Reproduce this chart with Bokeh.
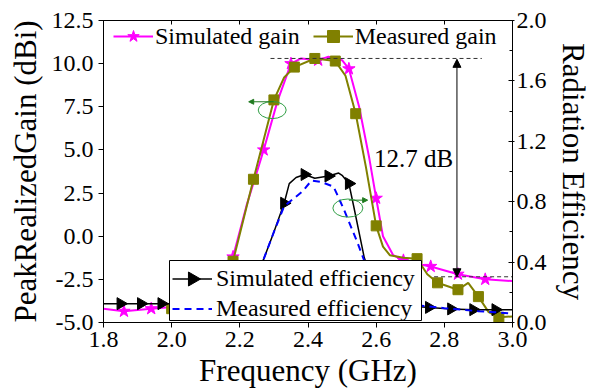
import numpy as np
from bokeh.plotting import figure
from bokeh.models import (Range1d, LinearAxis, SingleIntervalTicker, NumeralTickFormatter,
                          CustomJSTickFormatter, Legend, LegendItem, Arrow, NormalHead, Label)
from bokeh.embed import file_html
from bokeh.resources import INLINE

# ---------------- data ----------------
sim_gain_f = [1.80, 1.86, 1.94, 2.00, 2.02, 2.10, 2.15, 2.18, 2.22, 2.27, 2.31, 2.35, 2.38, 2.43,
              2.46, 2.50, 2.52, 2.55, 2.58, 2.60, 2.62, 2.65, 2.68, 2.72, 2.76, 2.84, 2.92, 3.00]
sim_gain = [-4.2, -4.35, -4.2, -4.1, -4.0, -3.5, -2.5, -1.2, 1.8, 5.0, 7.8, 10.0, 10.3, 10.2,
            10.4, 10.2, 9.7, 7.5, 4.5, 2.2, 0.0, -1.1, -1.4, -1.6, -1.75, -2.2, -2.5, -2.6]
sim_gain_mk_f = [1.86, 1.94, 2.18, 2.27, 2.35, 2.43, 2.52, 2.60, 2.68, 2.76, 2.84, 2.92]
sim_gain_mk = [-4.35, -4.2, -1.2, 5.0, 10.0, 10.2, 9.7, 2.2, -1.4, -1.75, -2.2, -2.5]

meas_gain_f = [2.00, 2.06, 2.12, 2.18, 2.24, 2.30, 2.33, 2.36, 2.42, 2.48, 2.51, 2.54, 2.57,
               2.60, 2.62, 2.64, 2.68, 2.72, 2.75, 2.78, 2.84, 2.87, 2.90, 2.93, 2.96, 3.00]
meas_gain = [-4.2, -4.0, -3.2, -1.45, 3.3, 7.9, 9.2, 9.8, 10.3, 10.15, 9.3, 7.1, 4.0,
             0.6, -0.6, -1.1, -1.25, -1.3, -2.2, -2.7, -3.1, -2.7, -3.5, -4.4, -4.7, -4.65]
meas_gain_mk_f = [2.00, 2.18, 2.24, 2.30, 2.36, 2.42, 2.48, 2.54, 2.60, 2.72, 2.78, 2.84, 2.90, 2.96]
meas_gain_mk = [-4.2, -1.45, 3.3, 7.9, 9.8, 10.3, 10.15, 7.1, 0.6, -1.3, -2.7, -3.1, -3.5, -4.7]

sim_eff_f = [1.80, 1.85, 1.91, 1.97, 2.00, 2.10, 2.20, 2.27, 2.30, 2.33, 2.345, 2.365, 2.39, 2.42,
             2.46, 2.49, 2.50, 2.52, 2.535, 2.565, 2.60, 2.65, 2.70, 2.755, 2.82, 2.885, 2.95, 3.00]
sim_eff = [0.125, 0.125, 0.125, 0.125, 0.125, 0.12, 0.15, 0.42, 0.60, 0.79, 0.92, 0.96, 0.98, 0.955,
           0.97, 0.99, 0.975, 0.92, 0.76, 0.43, 0.20, 0.13, 0.11, 0.10, 0.09, 0.085, 0.085, 0.085]
sim_eff_mk_f = [1.85, 1.91, 1.97, 2.33, 2.39, 2.46, 2.52, 2.755, 2.82, 2.885, 2.95]
sim_eff_mk = [0.125, 0.125, 0.125, 0.79, 0.98, 0.97, 0.92, 0.10, 0.09, 0.085, 0.085]

meas_eff_f = [2.00, 2.10, 2.20, 2.25, 2.27, 2.30, 2.33, 2.385, 2.41, 2.44, 2.475, 2.505, 2.545,
              2.565, 2.60, 2.65, 2.74, 2.80, 2.90, 3.00]
meas_eff = [0.08, 0.08, 0.12, 0.30, 0.42, 0.60, 0.77, 0.87, 0.94, 0.93, 0.90, 0.75, 0.53,
            0.41, 0.20, 0.13, 0.11, 0.095, 0.075, 0.06]

x_ticks_interval = 0.2
gain_tick_interval = 2.5
eff_tick_interval = 0.4

peak_gain_level = 10.3
floor_gain_level = -2.4

FONT = "Liberation Serif"

# frame geometry
W, H = 596, 390
BL, BR, BT, BB = 103, 84, 20, 68
FW, FH = W - BL - BR, H - BT - BB
X0, X1 = 1.8, 3.0
G0, G1 = -5.0, 12.5
E0, E1 = 0.0, 2.0

def to_x(px):
    return X0 + (px - BL) / FW * (X1 - X0)

def to_g(py):
    return G0 + (BT + FH - py) / FH * (G1 - G0)

# ---------------- figure ----------------
p = figure(width=W, height=H, output_backend="svg", toolbar_location=None,
           x_range=Range1d(X0, X1), y_range=Range1d(G0, G1),
           min_border_left=BL, min_border_right=BR, min_border_top=BT, min_border_bottom=BB)
p.xgrid.visible = False
p.ygrid.visible = False
p.outline_line_color = "black"
p.outline_line_width = 1
p.extra_y_ranges = {"eff": Range1d(E0, E1)}

def style_axis(ax):
    ax.axis_line_color = "black"
    ax.major_tick_line_color = "black"
    ax.minor_tick_line_color = "black"
    ax.major_label_text_font = FONT
    ax.major_label_text_font_size = "24px"
    ax.major_label_text_color = "black"
    ax.axis_label_text_font = FONT
    ax.axis_label_text_font_size = "31px"
    ax.axis_label_text_font_style = "normal"
    ax.axis_label_text_color = "black"

xa = p.xaxis[0]
xa.ticker = SingleIntervalTicker(interval=x_ticks_interval, num_minor_ticks=0)
xa.formatter = NumeralTickFormatter(format="0.0")
xa.axis_label = "Frequency (GHz)"
style_axis(xa)
xa.major_tick_in = 0
xa.major_tick_out = 5
xa.major_label_standoff = 4
xa.axis_label_standoff = 3

ya = p.yaxis[0]
ya.ticker = SingleIntervalTicker(interval=gain_tick_interval, num_minor_ticks=0)
ya.formatter = NumeralTickFormatter(format="0.0")
ya.axis_label = "PeakRealizedGain (dBi)"
style_axis(ya)
ya.major_tick_in = 0
ya.major_tick_out = 5
ya.major_label_standoff = 5
ya.axis_label_standoff = 6

ra = LinearAxis(y_range_name="eff", axis_label="Radiation Efficiency",
                ticker=SingleIntervalTicker(interval=eff_tick_interval, num_minor_ticks=2),
                formatter=NumeralTickFormatter(format="0.0"))
style_axis(ra)
ra.major_tick_in = 4
ra.major_tick_out = 2
ra.minor_tick_in = 3
ra.minor_tick_out = 0
ra.major_label_standoff = 2
ra.axis_label_standoff = 6
p.add_layout(ra, "right")

ta = LinearAxis(ticker=SingleIntervalTicker(interval=x_ticks_interval, num_minor_ticks=0),
                formatter=CustomJSTickFormatter(code="return ''"))
ta.axis_line_color = "black"
ta.major_tick_line_color = "black"
ta.major_tick_in = 4
ta.major_tick_out = 0
ta.major_label_standoff = 0
ta.major_label_text_font_size = "10px"
p.add_layout(ta, "above")

# ---------------- series ----------------
MAGENTA = "#ff00ff"
OLIVE = "#808000"

l_sg = p.line(sim_gain_f, sim_gain, line_color=MAGENTA, line_width=2)
m_sg = p.scatter(sim_gain_mk_f, sim_gain_mk, marker="star", size=13,
                 fill_color=MAGENTA, line_color=MAGENTA)

l_mg = p.line(meas_gain_f, meas_gain, line_color=OLIVE, line_width=2)
m_mg = p.scatter(meas_gain_mk_f, meas_gain_mk, marker="square", size=10,
                 fill_color=OLIVE, line_color=OLIVE)

l_se = p.line(sim_eff_f, sim_eff, line_color="black", line_width=1.5, y_range_name="eff")
m_se = p.scatter(sim_eff_mk_f, sim_eff_mk, marker="triangle", size=12, angle=-np.pi / 2,
                 fill_color="black", line_color="black", y_range_name="eff")

l_me = p.line(meas_eff_f, meas_eff, line_color="#0000ff", line_width=2, line_dash="7 5",
              y_range_name="eff")

# ---------------- annotations ----------------
p.line([2.29, 2.91], [peak_gain_level, peak_gain_level], line_color="#333333",
       line_width=1, line_dash="4 3")
p.line([2.77, 3.0], [floor_gain_level + 0.05, floor_gain_level + 0.05], line_color="#333333",
       line_width=1, line_dash="4 3")
p.add_layout(Arrow(x_start=2.837, y_start=floor_gain_level + 0.05, x_end=2.837,
                   y_end=peak_gain_level - 0.05, line_color="black", line_width=1,
                   start=NormalHead(size=8, fill_color="black", line_color="black"),
                   end=NormalHead(size=8, fill_color="black", line_color="black")))
p.add_layout(Label(x=2.594, y=4.5, text="12.7 dB", text_font=FONT, text_font_size="25px",
                   text_baseline="middle", text_color="black"))

GREEN = "#2f9e44"
p.ellipse(x=[2.295], y=[7.31], width=[0.082], height=[0.99], fill_color=None,
          line_color=GREEN, line_width=1)
p.ellipse(x=[2.517], y=[1.63], width=[0.088], height=[1.05], fill_color=None,
          line_color=GREEN, line_width=1)
p.add_layout(Arrow(x_start=2.299, y_start=7.79, x_end=2.226, y_end=7.79,
                   line_color="#1f7a1f", line_width=1,
                   end=NormalHead(size=5, fill_color="#1f7a1f", line_color="#1f7a1f")))
p.add_layout(Arrow(x_start=2.52, y_start=2.09, x_end=2.575, y_end=2.09,
                   line_color="#1f7a1f", line_width=1,
                   end=NormalHead(size=5, fill_color="#1f7a1f", line_color="#1f7a1f")))

# ---------------- legends ----------------
leg1 = Legend(items=[LegendItem(label="Simulated gain", renderers=[l_sg, m_sg]),
                     LegendItem(label="Measured gain", renderers=[l_mg, m_mg])],
              orientation="horizontal", location=(10, 271),
              glyph_width=40, glyph_height=30, label_height=30, label_standoff=2, spacing=13,
              padding=0, margin=0, border_line_alpha=0, background_fill_alpha=0,
              label_text_font=FONT, label_text_font_size="24px", label_text_color="black")

# efficiency legend: white framed box (glyph level, covers the curves), then the
# right-pointing triangle sample, then the legend entries drawn on top
BOX_L, BOX_R, BOX_T, BOX_B = 169, 421, 260, 320
p.quad(left=[to_x(BOX_L)], right=[to_x(BOX_R)], top=[to_g(BOX_T)], bottom=[to_g(BOX_B)],
       fill_color="white", line_color="black", line_width=1)

L2_X, L2_Y, L2_PAD, L2_GW, L2_GH, L2_SP = 66, -3, 3, 40, 27, 3
leg_h = 2 * L2_PAD + 2 * L2_GH + L2_SP
sx = BL + L2_X + L2_PAD + L2_GW / 2
sy = (BT + FH) - L2_Y - leg_h + L2_PAD + L2_GH / 2
p.scatter([to_x(sx)], [to_g(sy)], marker="triangle", size=14, angle=-np.pi / 2,
          fill_color="black", line_color="black")

leg2 = Legend(items=[LegendItem(label="Simulated efficiency", renderers=[l_se]),
                     LegendItem(label="Measured efficiency", renderers=[l_me])],
              orientation="vertical", location=(L2_X, L2_Y),
              glyph_width=L2_GW, glyph_height=L2_GH, label_height=L2_GH, label_standoff=4,
              spacing=L2_SP, padding=L2_PAD, margin=0, border_line_alpha=0,
              background_fill_alpha=0,
              label_text_font=FONT, label_text_font_size="24px", label_text_color="black")
p.add_layout(leg1, "center")
p.add_layout(leg2, "center")

open("out.html", "w").write(file_html(p, INLINE))
